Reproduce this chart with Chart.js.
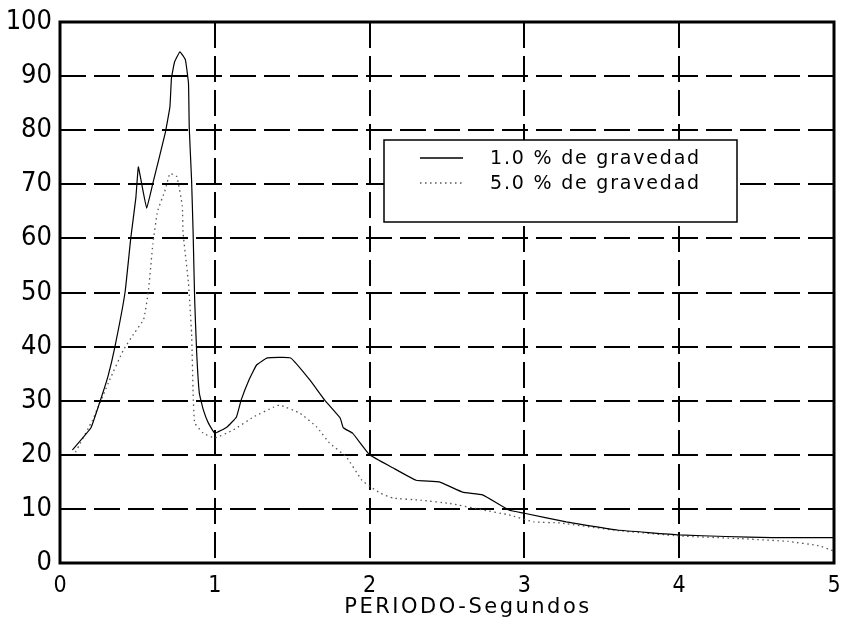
<!DOCTYPE html>
<html>
<head>
<meta charset="utf-8">
<script src="https://cdn.jsdelivr.net/npm/chart.js@4/dist/chart.umd.min.js"></script>
<style>
  html, body { margin: 0; padding: 0; background: #fff; }
  #wrap { width: 844px; height: 622px; }
</style>
</head>
<body>
<div id="wrap"><canvas id="grafico" width="844" height="622"></canvas></div>
<script>
// Espectro con 1.0 % de gravedad (linea continua)
const periodos1 = [0.08, 0.2, 0.26, 0.31, 0.355, 0.42, 0.457, 0.49, 0.506, 0.527, 0.56, 0.6, 0.68, 0.71, 0.72, 0.74, 0.775, 0.81, 0.83, 0.835, 0.85, 0.86, 0.87, 0.883, 0.9, 0.926, 0.958, 1.0, 1.077, 1.14, 1.17, 1.22, 1.27, 1.34, 1.49, 1.615, 1.71, 1.81, 1.83, 1.89, 2.0, 2.15, 2.3, 2.45, 2.6, 2.73, 2.9, 3.0, 3.27, 3.6, 4.0, 4.3, 4.6, 5.0];
const gravedad1 = [20.9, 25, 30, 34.5, 40, 50, 60, 67.5, 73.2, 70.2, 65.6, 70.2, 79.5, 84.3, 89.6, 92.6, 94.5, 93, 88.7, 80.4, 70.8, 61, 48.6, 38.8, 31.4, 28.3, 25.9, 24, 25.1, 27, 30.1, 33.8, 36.6, 37.9, 37.9, 33.8, 30.1, 26.8, 25, 24, 20, 17.6, 15.3, 15, 13.1, 12.6, 9.8, 9.2, 7.6, 6.1, 5.2, 4.9, 4.7, 4.7];

// Espectro con 5.0 % de gravedad (linea punteada)
const periodos5 = [0.1, 0.21, 0.32, 0.41, 0.48, 0.54, 0.57, 0.6, 0.63, 0.68, 0.71, 0.755, 0.79, 0.795, 0.83, 0.85, 0.86, 0.87, 0.925, 1.0, 1.12, 1.25, 1.38, 1.42, 1.55, 1.66, 1.74, 1.85, 1.95, 2.01, 2.07, 2.15, 2.33, 2.52, 2.73, 2.9, 3.06, 3.23, 3.6, 4.0, 4.4, 4.7, 4.9, 5.0];
const gravedad5 = [20.5, 26.4, 33.8, 39.4, 42.5, 45, 50, 59, 65, 69, 72, 71.4, 66, 61, 51.7, 42.5, 31.4, 25.9, 24, 23.1, 24.6, 27, 28.8, 29.2, 27.7, 25.1, 22.2, 19.6, 15.3, 14, 12.9, 12, 11.6, 11, 9.8, 8.9, 7.6, 7.4, 6, 5, 4.5, 4, 3.2, 2.2];

const etiquetas = ["1.0 % de gravedad", "5.0 % de gravedad"];
const tituloX = "PERIODO-Segundos";
const ticksX = [0, 1, 2, 3, 4, 5];
const ticksY = [0, 10, 20, 30, 40, 50, 60, 70, 80, 90, 100];

const fuenteNum = '"DejaVu Sans Condensed", "Liberation Sans", sans-serif';

function puntos(xs, ys) {
    return xs.map((x, i) => ({ x: x, y: ys[i] }));
}

// Marco grueso, leyenda en recuadro y titulo del eje X
const extras = {
    id: "extras",
    afterDatasetsDraw(chart) {
        const ctx = chart.ctx;
        const a = chart.chartArea;
        ctx.save();

        // recuadro de la leyenda
        const bx = 384, by = 140, bw = 353, bh = 82;
        ctx.fillStyle = "#fff";
        ctx.fillRect(bx, by, bw, bh);
        ctx.strokeStyle = "#000";
        ctx.lineWidth = 1.5;
        ctx.strokeRect(bx, by, bw, bh);

        const filas = [158, 183];
        chart.data.datasets.forEach((ds, i) => {
            ctx.beginPath();
            ctx.strokeStyle = ds.borderColor;
            ctx.lineWidth = ds.borderWidth + 0.3;
            ctx.setLineDash(ds.borderDash || []);
            ctx.moveTo(420, filas[i]);
            ctx.lineTo(463, filas[i]);
            ctx.stroke();
            ctx.setLineDash([]);

            ctx.fillStyle = "#000";
            ctx.font = '19px "DejaVu Sans", sans-serif';
            ctx.letterSpacing = "1.8px";
            ctx.textBaseline = "middle";
            ctx.textAlign = "left";
            ctx.fillText(ds.label, 490, filas[i] + 1);
        });

        // marco del area
        ctx.letterSpacing = "0px";
        ctx.strokeStyle = "#000";
        ctx.lineWidth = 3;
        ctx.strokeRect(a.left, a.top, a.right - a.left, a.bottom - a.top);

        // titulo eje X
        ctx.fillStyle = "#000";
        ctx.font = '21px "DejaVu Sans", sans-serif';
        ctx.letterSpacing = "2.5px";
        ctx.textAlign = "center";
        ctx.textBaseline = "alphabetic";
        ctx.fillText(tituloX, 468, 613);
        ctx.restore();
    }
};

new Chart(document.getElementById("grafico"), {
    type: "line",
    data: {
        datasets: [
            {
                label: etiquetas[0],
                data: puntos(periodos1, gravedad1),
                borderColor: "#000",
                borderWidth: 1.2,
                pointRadius: 0,
                tension: 0.1,
                fill: false
            },
            {
                label: etiquetas[1],
                data: puntos(periodos5, gravedad5),
                borderColor: "#555",
                borderWidth: 1.3,
                borderDash: [1.5, 3.5],
                pointRadius: 0,
                tension: 0.1,
                fill: false
            }
        ]
    },
    options: {
        responsive: false,
        animation: false,
        layout: { padding: { top: 22, right: 10, left: 0, bottom: 0 } },
        plugins: {
            legend: { display: false },
            tooltip: { enabled: false }
        },
        scales: {
            x: {
                type: "linear",
                min: 0,
                max: 5,
                afterBuildTicks: s => { s.ticks = ticksX.map(v => ({ value: v })); },
                afterFit: s => { s.height = 59; s.paddingLeft = 0; s.paddingRight = 0; },
                ticks: {
                    color: "#000",
                    padding: 12,
                    maxRotation: 0,
                    font: { family: fuenteNum, size: 23, lineHeight: 1 },
                    callback: v => String(v)
                },
                grid: {
                    color: ctx => (ctx.tick && (ctx.tick.value === 0 || ctx.tick.value === 5)) ? "rgba(0,0,0,0)" : "#000",
                    lineWidth: 2,
                    drawTicks: false
                },
                border: { display: false, dash: [26, 8] }
            },
            y: {
                min: 0,
                max: 100,
                afterBuildTicks: s => { s.ticks = ticksY.map(v => ({ value: v })); },
                afterFit: s => { s.width = 60; s.paddingTop = 0; s.paddingBottom = 0; },
                ticks: {
                    color: "#000",
                    padding: 8,
                    font: { family: fuenteNum, size: 27, lineHeight: 1 },
                    callback: v => String(v)
                },
                grid: {
                    color: ctx => (ctx.tick && (ctx.tick.value === 0 || ctx.tick.value === 100)) ? "rgba(0,0,0,0)" : "#000",
                    lineWidth: 2,
                    drawTicks: false
                },
                border: { display: false, dash: [26, 8] }
            }
        }
    },
    plugins: [extras]
});
</script>
</body>
</html>
